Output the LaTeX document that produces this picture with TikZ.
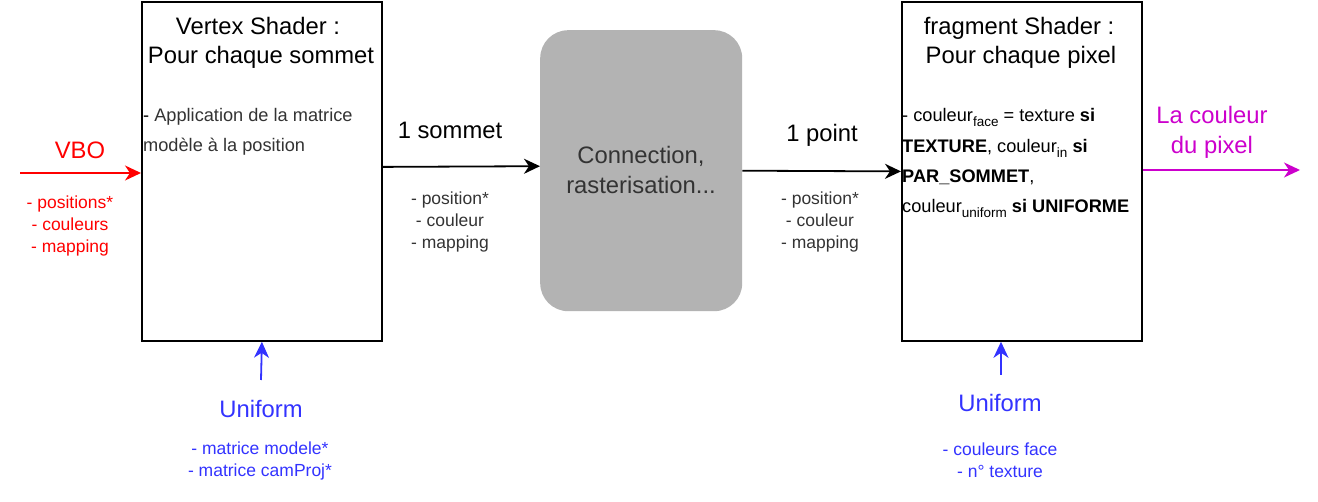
\documentclass[tikz,border=0pt]{standalone}
\usepackage{fontspec}
\setmainfont{Liberation Sans}
\usetikzlibrary{arrows.meta}
\definecolor{vred}{HTML}{FF0000}
\definecolor{ublue}{HTML}{3333FF}
\definecolor{mag}{HTML}{CC00CC}
\definecolor{rgray}{HTML}{B3B3B3}
\definecolor{tgray}{HTML}{333333}
\newcommand\mysub[1]{\raisebox{-5pt}{\fontsize{13.5}{13.5}\selectfont #1}}
\tikzset{
  big/.style={font=\fontsize{23.8}{28}\selectfont, inner sep=0pt, anchor=base},
  small/.style={font=\fontsize{17.5}{21}\selectfont, inner sep=0pt, anchor=base},
  bodyl/.style={font=\fontsize{18.2}{21}\selectfont, inner sep=0pt, anchor=base west},
  shaderbox/.style={draw, line width=1.8pt, inner sep=0pt, anchor=north west, minimum width=240pt, minimum height=339pt},
  arr/.style={line width=1.8pt, -{Stealth[length=16pt,width=15pt,inset=5pt]}}
}
\begin{document}
\begin{tikzpicture}[x=1pt,y=-1pt]
\useasboundingbox (0,0) rectangle (1318,502);
% boxes
\node[shaderbox] (vs) at (141,1) {};
\node[shaderbox] (fs) at (901,1) {};
\node[fill=rgray, rounded corners=28pt, inner sep=0pt, anchor=north west, minimum width=202pt, minimum height=281pt] (rast) at (540,30) {};
% vertex shader texts
\node[big] (vt1) at (258,35) {Vertex Shader :};
\node[big] (vt2) at (261,64) {Pour chaque sommet};
\node[bodyl] (vb1) at (143,122) {- \textcolor{tgray}{Application de la matrice}};
\node[bodyl, text=tgray] (vb2) at (143,152) {modèle à la position};
% fragment shader texts
\node[big] (ft1) at (1019,35) {fragment Shader :};
\node[big] (ft2) at (1021,64) {Pour chaque pixel};
\node[bodyl] (fb1) at (902,122) {- couleur\mysub{face} = texture \textbf{si}};
\node[bodyl] (fb2) at (902,153) {\textbf{TEXTURE}, couleur\mysub{in} \textbf{si}};
\node[bodyl] (fb3) at (902,183) {\textbf{PAR\_SOMMET},};
\node[bodyl] (fb4) at (902,213) {couleur\mysub{uniform} \textbf{si UNIFORME}};
% rasterisation
\node[big, text=tgray] (r1) at (641,164) {Connection,};
\node[big, text=tgray] (r2) at (641,194) {rasterisation...};
% VBO
\coordinate (vbo) at (20,173);
\draw[arr, vred] (vbo) -- (vs.west |- vbo);
\node[big, text=vred] (vbot) at (80,159) {VBO};
\node[small, text=vred] (vbo1) at (70,209) {- positions*};
\node[small, text=vred] (vbo2) at (70,231) {- couleurs};
\node[small, text=vred] (vbo3) at (70,253) {- mapping};
% vertex -> rasterisation
\draw[arr] ([yshift=4.5pt]vs.east) -- ([yshift=4.5pt]rast.west);
\node[big] (s1) at (450,139) {1 sommet};
\node[small, text=tgray] (s2) at (450,205) {- position*};
\node[small, text=tgray] (s3) at (450,227) {- couleur};
\node[small, text=tgray] (s4) at (450,249) {- mapping};
% rasterisation -> fragment
\draw[arr] (rast.east) -- (fs.west);
\node[big] (p1) at (822,142) {1 point};
\node[small, text=tgray] (p2) at (820,205) {- position*};
\node[small, text=tgray] (p3) at (820,227) {- couleur};
\node[small, text=tgray] (p4) at (820,249) {- mapping};
% output
\coordinate (out) at (1300,170);
\draw[arr, mag] (fs.east |- out) -- (out);
\node[big, text=mag] (o1) at (1212,124) {La couleur};
\node[big, text=mag] (o2) at (1212,154) {du pixel};
% uniforms
\coordinate (u1) at (261,380);
\draw[arr, ublue] (u1) -- (vs.south);
\node[big, text=ublue] (u1t) at (261,418) {Uniform};
\node[small, text=ublue] (u1a) at (260,455) {- matrice modele*};
\node[small, text=ublue] (u1b) at (260,477) {- matrice camProj*};
\coordinate (u2) at (1001,375);
\draw[arr, ublue] (u2) -- (u2 |- fs.south);
\node[big, text=ublue] (u2t) at (1000,412) {Uniform};
\node[small, text=ublue] (u2a) at (1000,456) {- couleurs face};
\node[small, text=ublue] (u2b) at (1000,478) {- n° texture};
\end{tikzpicture}
\end{document}
